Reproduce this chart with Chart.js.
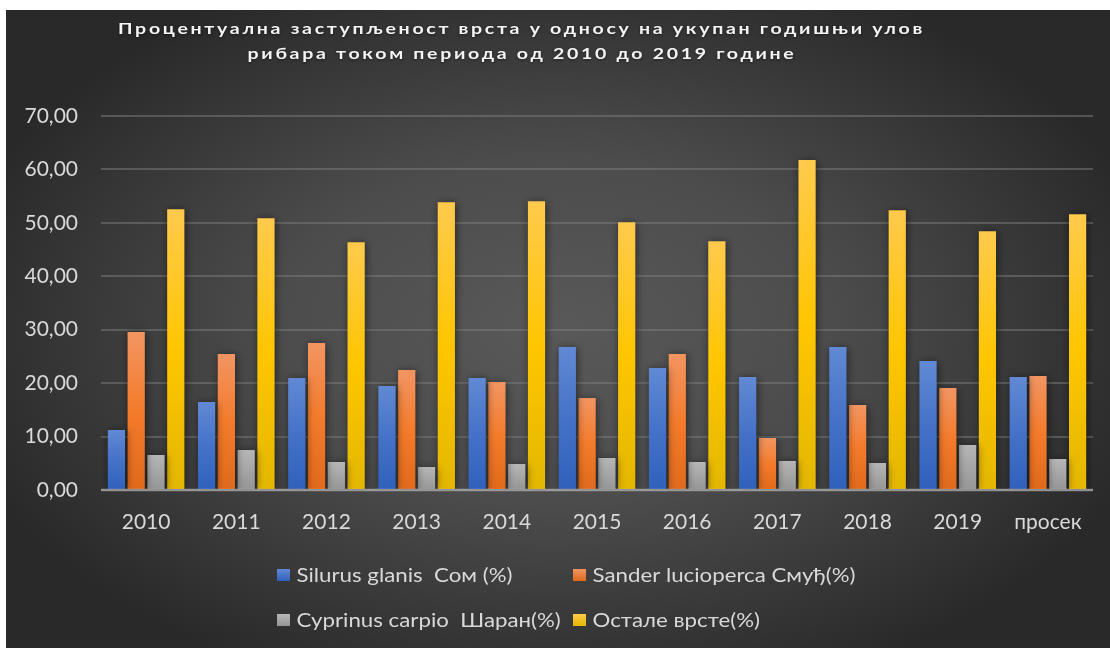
<!DOCTYPE html>
<html>
<head>
<meta charset="utf-8">
<script src="https://cdn.jsdelivr.net/npm/chart.js@4.4.1/dist/chart.umd.min.js"></script>
<style>
  html, body { margin: 0; padding: 0; background: #ffffff; width: 1110px; height: 648px; overflow: hidden; }
  #wrap { position: absolute; left: 6px; top: 10px; width: 1104px; height: 638px; }
</style>
</head>
<body>
<div id="wrap"><canvas id="c" width="1104" height="638"></canvas></div>
<script>
const categories = ['2010', '2011', '2012', '2013', '2014', '2015', '2016', '2017', '2018', '2019', 'просек'];
const silurus  = [11.22, 16.46, 20.95, 19.45, 20.95, 26.75, 22.82, 21.15, 26.75, 24.13, 21.13];
const sander   = [29.55, 25.44, 27.49, 22.44, 20.20, 17.21, 25.44, 9.74, 15.90, 19.08, 21.32];
const cyprinus = [6.55, 7.48, 5.24, 4.30, 4.86, 5.99, 5.24, 5.43, 5.05, 8.42, 5.80];
const ostale   = [52.56, 50.87, 46.38, 53.87, 54.05, 50.12, 46.57, 61.78, 52.37, 48.44, 51.62];
const seriesLabels = ['Silurus glanis  Сом (%)', 'Sander lucioperca Смуђ(%)', 'Cyprinus carpio  Шаран(%)', 'Остале врсте(%)'];
const yTicks = [0, 10, 20, 30, 40, 50, 60, 70];
const titleLines = ['Процентуална заступљеност врста у односу на укупан годишњи улов', 'рибара током периода од 2010 до 2019 године'];

const FONT = "Lato, 'Noto Sans', sans-serif";
const TXT = '#d9d9d9';

const palettes = [
  ['#6189d4', '#4572c8', '#2f61bb'],
  ['#f29562', '#f47b2b', '#e0691b'],
  ['#b6b6b6', '#a6a6a6', '#959595'],
  ['#ffca4d', '#ffc600', '#e3b700']
];

function barFill(idx) {
  return function(ctx) {
    const chart = ctx.chart;
    const area = chart.chartArea;
    const p = palettes[idx];
    if (!area || ctx.type !== 'data') return p[1];
    const ys = chart.scales.y;
    const top = ys.getPixelForValue(ctx.raw);
    const bottom = ys.getPixelForValue(0);
    if (!isFinite(top) || bottom - top < 1) return p[1];
    const g = chart.ctx.createLinearGradient(0, top, 0, bottom);
    g.addColorStop(0, p[0]);
    g.addColorStop(0.5, p[1]);
    g.addColorStop(1, p[2]);
    return g;
  };
}

const bgPlugin = {
  id: 'bg',
  beforeDraw(chart) {
    const c = chart.ctx;
    const w = chart.width, h = chart.height;
    c.save();
    c.fillStyle = '#2a2a2a';
    c.fillRect(0, 0, w, h);
    c.translate(550, 320);
    c.scale(1, 0.62);
    const g = c.createRadialGradient(0, 0, 0, 0, 0, 620);
    g.addColorStop(0, '#595959');
    g.addColorStop(0.45, '#4c4c4c');
    g.addColorStop(1, '#292929');
    c.fillStyle = g;
    c.fillRect(-700, -700, 1400, 1400);
    c.restore();
  }
};

const shadowPlugin = {
  id: 'shadow',
  beforeDatasetsDraw(chart) {
    const c = chart.ctx;
    c.save();
    c.shadowColor = 'rgba(0,0,0,0.55)';
    c.shadowBlur = 9;
    c.shadowOffsetX = 1;
    c.shadowOffsetY = 1;
  },
  afterDatasetsDraw(chart) {
    chart.ctx.restore();
    const c = chart.ctx;
    const a = chart.chartArea;
    const y0 = chart.scales.y.getPixelForValue(0);
    c.save();
    c.strokeStyle = 'rgba(200,200,200,0.55)';
    c.lineWidth = 2.5;
    c.beginPath();
    c.moveTo(a.left, y0);
    c.lineTo(a.right, y0);
    c.stroke();
    c.restore();
  }
};

function drawStretched(c, text, x, y, sx, align) {
  c.save();
  c.translate(x, y);
  c.scale(sx, 1);
  c.textAlign = align;
  c.fillText(text, 0, 0);
  c.restore();
}

const textPlugin = {
  id: 'texts',
  afterDraw(chart) {
    const c = chart.ctx;
    c.save();
    // title
    c.fillStyle = '#f4f4f4';
    c.font = "bold 16px " + FONT;
    c.textBaseline = 'alphabetic';
    c.shadowColor = 'rgba(0,0,0,0.45)';
    c.shadowBlur = 3;
    c.shadowOffsetY = 1;
    try { c.letterSpacing = '2.2px'; } catch (e) {}
    const tw = c.measureText(titleLines[0]).width;
    const tsx = 807 / tw;
    drawStretched(c, titleLines[0], 515.5, 24, tsx, 'center');
    drawStretched(c, titleLines[1], 516, 48.5, tsx, 'center');
    try { c.letterSpacing = '0px'; } catch (e) {}
    c.shadowColor = 'transparent';
    c.shadowBlur = 0;
    c.shadowOffsetY = 0;
    // legend
    c.textBaseline = 'middle';
    c.font = "19.5px " + FONT;
    const lw = c.measureText(chart.data.datasets[0].label).width;
    const lsx = 216 / lw;
    const pos = [[271, 565], [567, 565], [271, 610], [567, 610]];
    chart.data.datasets.forEach((ds, i) => {
      const [x, y] = pos[i];
      const p = palettes[i];
      const g = c.createLinearGradient(0, y - 6, 0, y + 6);
      g.addColorStop(0, p[0]); g.addColorStop(1, p[2]);
      c.fillStyle = g;
      c.fillRect(x, y - 6, 13, 12);
      c.fillStyle = TXT;
      drawStretched(c, ds.label, x + 19.5, y + 1, lsx, 'left');
    });
    c.restore();
  }
};

const datasets = [silurus, sander, cyprinus, ostale].map((vals, i) => ({
  label: seriesLabels[i],
  data: vals,
  backgroundColor: barFill(i),
  borderWidth: 0,
  barPercentage: 0.87,
  categoryPercentage: 0.878
}));

new Chart(document.getElementById('c'), {
  type: 'bar',
  data: { labels: categories, datasets },
  plugins: [bgPlugin, shadowPlugin, textPlugin],
  options: {
    responsive: false,
    animation: false,
    events: [],
    layout: { padding: { left: 0, right: 17, top: 106, bottom: 0 } },
    plugins: { legend: { display: false }, title: { display: false }, tooltip: { enabled: false } },
    scales: {
      x: {
        grid: { display: false, drawTicks: false },
        border: { display: false },
        ticks: { color: TXT, font: { family: FONT, size: 21 }, padding: 20, maxRotation: 0, autoSkip: false },
        afterFit(s) { s.height = 158; }
      },
      y: {
        min: 0, max: 70,
        afterBuildTicks(s) { s.ticks = yTicks.map(v => ({ value: v })); },
        grid: { color: 'rgba(125,125,125,0.5)', lineWidth: 2, drawTicks: false },
        border: { display: false },
        ticks: {
          color: TXT, font: { family: FONT, size: 21 }, padding: 23,
          callback: v => Number(v).toFixed(2).replace('.', ',')
        },
        afterFit(s) { s.width = 95; s.paddingTop = 0; s.paddingBottom = 0; }
      }
    }
  }
});
</script>
</body>
</html>
